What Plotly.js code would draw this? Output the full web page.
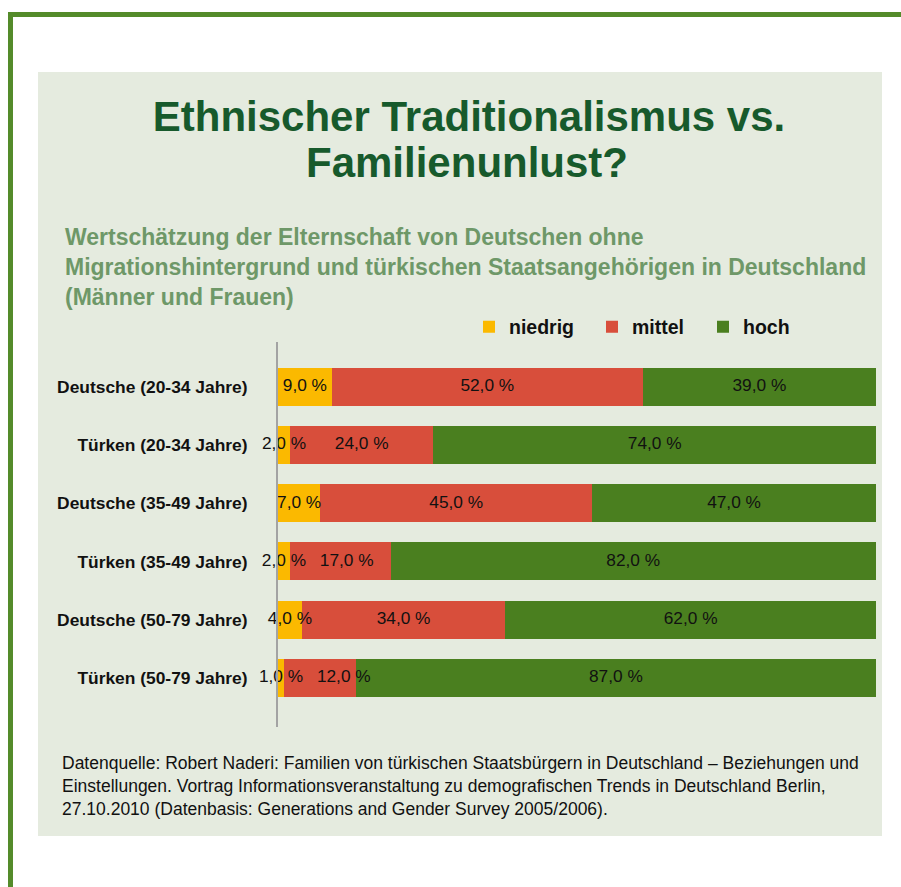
<!DOCTYPE html>
<html>
<head>
<meta charset="utf-8">
<script src="https://cdn.plot.ly/plotly-3.0.1.min.js"></script>
<style>html,body{margin:0;padding:0;background:#fff;}#chart{width:901px;height:887px;}</style>
</head>
<body>
<div id="chart"></div>
<script>
// ---- data ----
const categories = ['Deutsche (20-34 Jahre)', 'Türken (20-34 Jahre)', 'Deutsche (35-49 Jahre)', 'Türken (35-49 Jahre)', 'Deutsche (50-79 Jahre)', 'Türken (50-79 Jahre)'];
const niedrig = [9, 2, 7, 2, 4, 1];
const mittel = [52, 24, 45, 17, 34, 12];
const hoch = [39, 74, 47, 82, 62, 87];
const seriesNames = ['niedrig', 'mittel', 'hoch'];
const titleLine1 = 'Ethnischer Traditionalismus vs.';
const titleLine2 = 'Familienunlust?';
const subtitle = 'Wertschätzung der Elternschaft von Deutschen ohne<br>Migrationshintergrund und türkischen Staatsangehörigen in Deutschland<br>(Männer und Frauen)';
const source = 'Datenquelle: Robert Naderi: Familien von türkischen Staatsbürgern in Deutschland – Beziehungen und<br>Einstellungen. Vortrag Informationsveranstaltung zu demografischen Trends in Deutschland Berlin,<br>27.10.2010 (Datenbasis: Generations and Gender Survey 2005/2006).';

// ---- layout helpers ----
const W = 901, H = 887, L = 278, R = 876, T = 342, B = 727;
const px = x => (x - L) / (R - L);
const py = y => (B - y) / (B - T);
const FONT = 'Liberation Sans, Arial, sans-serif';
const LABEL_SIZE = 17.3;
const colors = ['#fbb900', '#d84e3b', '#4a7f1f'];
const legendIds = ['legend', 'legend2', 'legend3'];
const legendCenters = [490, 613, 724];
const fmt = v => v.toFixed(1).replace('.', ',') + ' %';

const series = [niedrig, mittel, hoch];
const traces = series.map((vals, i) => ({
  type: 'bar',
  orientation: 'h',
  name: seriesNames[i],
  legend: legendIds[i],
  x: vals,
  y: categories,
  marker: {color: colors[i]},
  hoverinfo: 'skip'
}));

// value labels: middle of each (normalised) segment, nudged right when they would collide
const charW = c => (c === ',' || c === ' ') ? 0.278 : (c === '%' ? 0.889 : 0.556);
const labelHalfWidth = s => [...s].reduce((a, c) => a + charW(c), 0) * LABEL_SIZE / (R - L) * 100 / 2;
const minGap = 2.3;
const labelX = [], labelY = [], labelText = [];
categories.forEach((cat, r) => {
  const total = series.reduce((s, arr) => s + arr[r], 0);
  let cum = 0, prevRight = -Infinity;
  series.forEach(arr => {
    const t = fmt(arr[r]);
    const hw = labelHalfWidth(t);
    let c = (cum + arr[r] / 2) / total * 100;
    if (c - hw < prevRight + minGap) c = prevRight + minGap + hw;
    labelX.push(c); labelY.push(cat); labelText.push(t);
    prevRight = c + hw;
    cum += arr[r];
  });
});
traces.push({
  type: 'scatter', mode: 'text', x: labelX, y: labelY, text: labelText,
  textposition: 'middle center', cliponaxis: false, showlegend: false, hoverinfo: 'skip',
  textfont: {family: FONT, size: LABEL_SIZE, color: '#111'}
});

const legendStyle = cx => ({
  orientation: 'h', x: px(cx - 21), xanchor: 'left', y: py(327), yanchor: 'middle',
  font: {family: FONT, size: 19.5, color: '#111', weight: 'bold'},
  bgcolor: 'rgba(0,0,0,0)', borderwidth: 0
});

const layout = {
  width: W, height: H,
  margin: {l: L, r: W - R, t: T, b: H - B, pad: 0},
  paper_bgcolor: '#ffffff',
  plot_bgcolor: 'rgba(0,0,0,0)',
  barmode: 'stack',
  barnorm: 'percent',
  bargap: 0.347,
  showlegend: true,
  legend: legendStyle(legendCenters[0]),
  legend2: legendStyle(legendCenters[1]),
  legend3: legendStyle(legendCenters[2]),
  title: {
    text: titleLine1, x: 469 / W, xanchor: 'center', xref: 'container',
    y: 1 - 116 / H, yanchor: 'middle', yref: 'container',
    font: {family: FONT, size: 42, color: '#175a2c', weight: 'bold'}
  },
  xaxis: {range: [0, 100], visible: false, fixedrange: true},
  yaxis: {
    type: 'category', range: [5.846, -0.772],
    showline: true, linecolor: '#a3a3a3', linewidth: 2,
    showgrid: false, zeroline: false, ticks: '', ticklabelstandoff: 25,
    tickfont: {family: FONT, size: 17.4, color: '#111', weight: 'bold'},
    fixedrange: true
  },
  shapes: [
    {type: 'rect', xref: 'paper', yref: 'paper', layer: 'below', x0: px(38), x1: px(882), y0: py(836), y1: py(72), fillcolor: '#e5ebdf', line: {width: 0}},
    {type: 'rect', xref: 'paper', yref: 'paper', layer: 'below', x0: px(8), x1: px(13), y0: py(887), y1: py(12), fillcolor: '#548b2a', line: {width: 0}},
    {type: 'rect', xref: 'paper', yref: 'paper', layer: 'below', x0: px(8), x1: px(901), y0: py(17), y1: py(12), fillcolor: '#548b2a', line: {width: 0}}
  ],
  annotations: [
    {text: titleLine2, xref: 'paper', yref: 'paper', x: px(467), y: py(162), xanchor: 'center', yanchor: 'middle', showarrow: false,
     font: {family: FONT, size: 42, color: '#175a2c', weight: 'bold'}},
    {text: subtitle, xref: 'paper', yref: 'paper', x: px(63), y: py(267), xanchor: 'left', yanchor: 'middle', align: 'left', showarrow: false,
     font: {family: FONT, size: 23, color: '#6e9868', weight: 'bold'}},
    {text: source, xref: 'paper', yref: 'paper', x: px(60), y: py(786), xanchor: 'left', yanchor: 'middle', align: 'left', showarrow: false,
     font: {family: FONT, size: 17.5, color: '#111'}}
  ]
};

Plotly.newPlot('chart', traces, layout, {displayModeBar: false, staticPlot: true});
</script>
</body>
</html>
